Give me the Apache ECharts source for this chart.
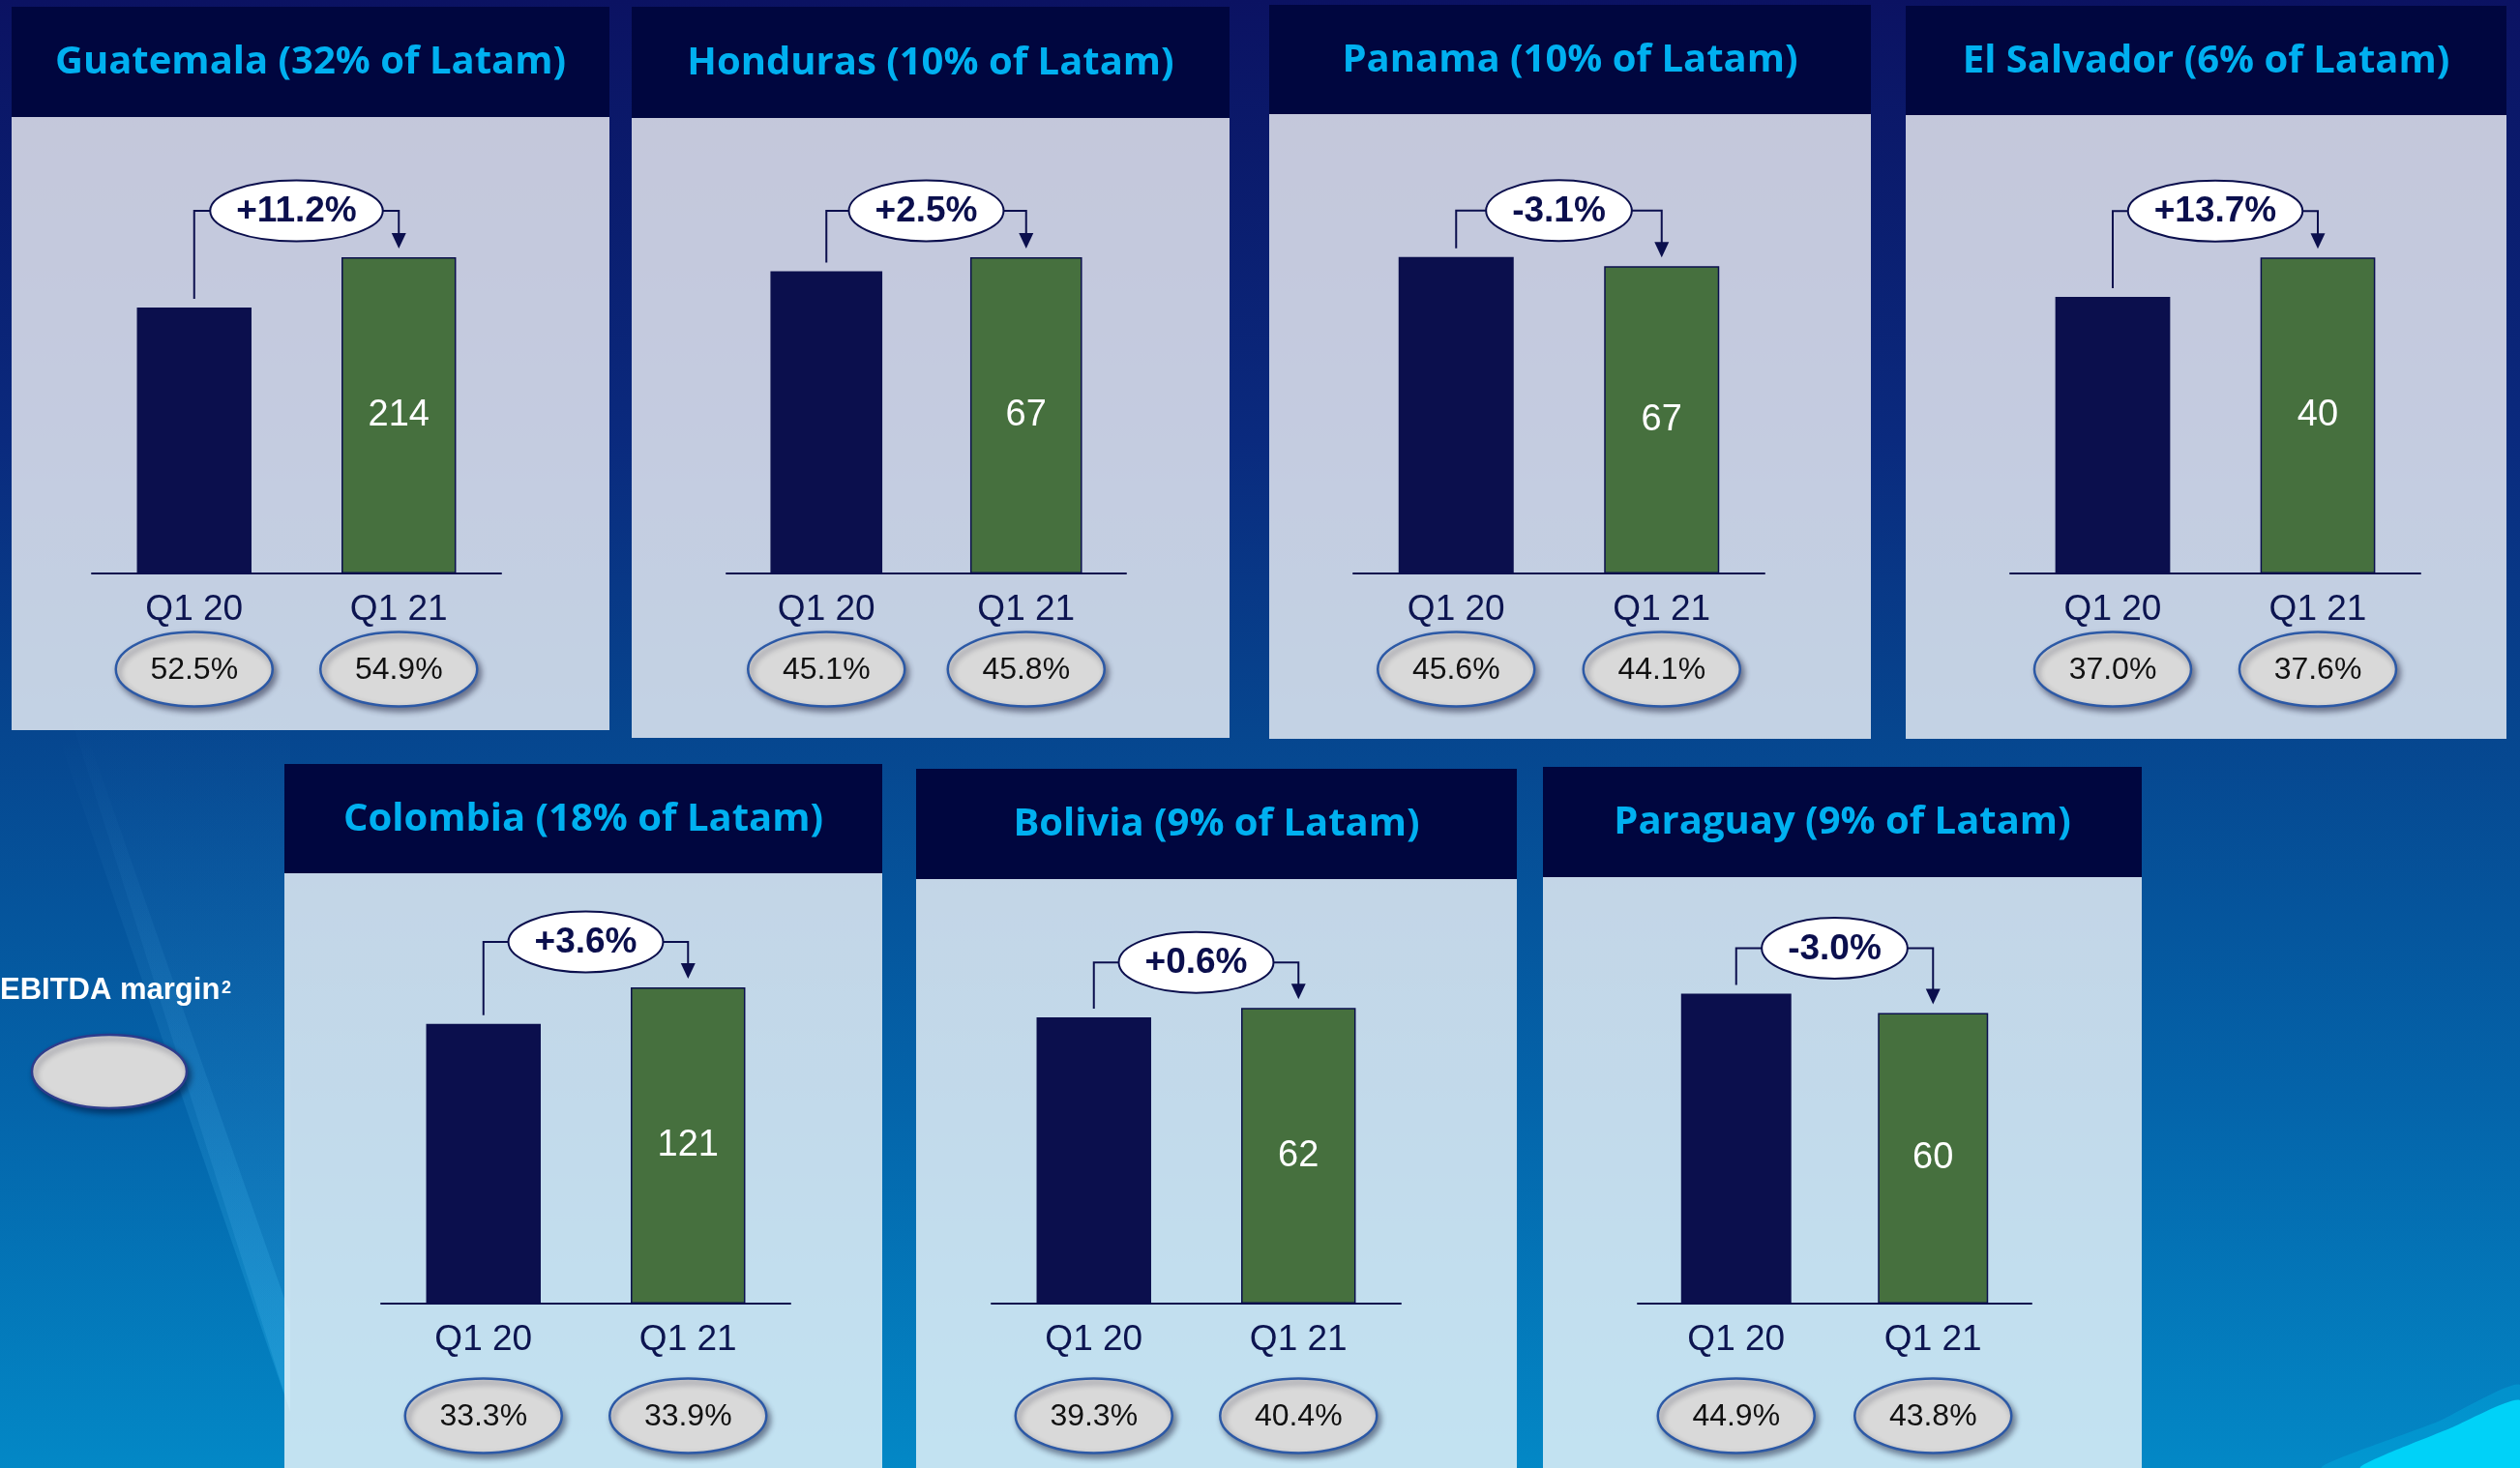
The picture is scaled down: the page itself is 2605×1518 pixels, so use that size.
<!DOCTYPE html>
<html>
<head>
<meta charset="utf-8">
<script src="https://cdn.jsdelivr.net/npm/echarts@6/dist/echarts.min.js"></script>
<style>
  html, body { margin: 0; padding: 0; background: #0a2a7c; }
  #chart { width: 2605px; height: 1518px; }
</style>
</head>
<body>
<div id="chart"></div>
<script>
// EBITDA by country (USD m), Q1 20 vs Q1 21
const countries = ['Guatemala', 'Honduras', 'Panama', 'El Salvador', 'Colombia', 'Bolivia', 'Paraguay']
const latamShare = ['32%', '10%', '10%', '6%', '18%', '9%', '9%']
const periods = ['Q1 20', 'Q1 21']
const ebitdaQ120 = [180, 64, 69, 35, 107, 60, 64]
const ebitdaQ121 = [214, 67, 67, 40, 121, 62, 60]
const growth = ['+11.2%', '+2.5%', '-3.1%', '+13.7%', '+3.6%', '+0.6%', '-3.0%']
const marginQ120 = ['52.5%', '45.1%', '45.6%', '37.0%', '33.3%', '39.3%', '44.9%']
const marginQ121 = ['54.9%', '45.8%', '44.1%', '37.6%', '33.9%', '40.4%', '43.8%']

// y scale top of each panel
const axisMax = [216, 67.6, 69.6, 40.4, 122.1, 66.9, 65.9]

// panel boxes: [left, right, top, headerBottom, bottom]
const panels = [
  [12, 630, 7, 121, 755],
  [653, 1271, 7, 122, 763],
  [1312, 1934, 5, 118, 764],
  [1970, 2591, 6, 119, 764],
  [294, 912, 790, 903, 1518],
  [947, 1568, 795, 909, 1518],
  [1595, 2214, 793, 907, 1518]
]
// plot areas: [left, width, baseline]
const plots = [
  [95, 423, 593], [751, 413, 593], [1399, 425, 593], [2078, 424, 593],
  [394, 423, 1348], [1025, 423, 1348], [1693, 407, 1348]
]
const PLOT_H = 330
const W = 2605
const H = 1518

const NAVY = '#0b0f4d'
const GREEN = '#46703e'
const ARIAL = '"Liberation Sans", Arial, sans-serif'

const chart = echarts.init(document.getElementById('chart'))

const grids = []
const xAxes = []
const yAxes = []
const series = []
countries.forEach((c, i) => {
  const p = plots[i]
  grids.push({ left: p[0], width: p[1], top: p[2] - PLOT_H, height: PLOT_H })
  xAxes.push({
    type: 'category',
    gridIndex: i,
    data: periods,
    axisLine: { lineStyle: { color: NAVY, width: 2 } },
    axisTick: { show: false },
    axisLabel: { fontSize: 37, color: '#0c1450', fontFamily: ARIAL, margin: 19 }
  })
  yAxes.push({ type: 'value', gridIndex: i, show: false, min: 0, max: axisMax[i], splitLine: { show: false } })
  series.push({
    type: 'bar',
    xAxisIndex: i,
    yAxisIndex: i,
    barWidth: '56%',
    itemStyle: { borderColor: NAVY, borderWidth: 1.5 },
    label: { show: false, position: 'inside', color: '#fff', fontSize: 38, fontFamily: ARIAL },
    data: [
      { value: ebitdaQ120[i], itemStyle: { color: NAVY } },
      { value: ebitdaQ121[i], itemStyle: { color: GREEN }, label: { show: true } }
    ]
  })
})

chart.setOption({
  animation: false,
  backgroundColor: 'transparent',
  grid: grids,
  xAxis: xAxes,
  yAxis: yAxes,
  series: series
})

// text width helper for the growth bubbles
const ctx = document.createElement('canvas').getContext('2d')
function textWidth(text, font) {
  ctx.font = font
  return ctx.measureText(text).width
}

const ovalShadow = { shadowBlur: 6, shadowOffsetX: 3, shadowOffsetY: 4, shadowColor: 'rgba(0,0,30,0.45)' }

const graphics = [
  // slide background
  {
    type: 'rect', z: -100,
    shape: { x: 0, y: 0, width: W, height: H },
    style: {
      fill: {
        type: 'linear', x: 0, y: 0, x2: 0, y2: 1,
        colorStops: [
          { offset: 0, color: '#0b1262' },
          { offset: 0.3, color: '#0a2a7e' },
          { offset: 0.5, color: '#06468f' },
          { offset: 0.75, color: '#0464aa' },
          { offset: 1, color: '#0388c6' }
        ]
      }
    }
  },
  // light beam on the left
  {
    type: 'polygon', z: -98,
    shape: { points: [[60, 700], [300, 700], [300, 1460]] },
    style: {
      fill: {
        type: 'linear', x: 0, y: 0, x2: 0, y2: 1,
        colorStops: [
          { offset: 0, color: 'rgba(90,180,245,0)' },
          { offset: 1, color: 'rgba(90,190,245,0.2)' }
        ]
      }
    }
  },
  {
    type: 'polygon', z: -97,
    shape: { points: [[60, 760], [90, 760], [300, 1360], [300, 1460]] },
    style: {
      fill: {
        type: 'linear', x: 0, y: 0, x2: 0, y2: 1,
        colorStops: [
          { offset: 0, color: 'rgba(120,200,255,0)' },
          { offset: 1, color: 'rgba(60,200,250,0.22)' }
        ]
      }
    }
  },
  // cyan swoosh bottom right
  {
    type: 'polygon', z: -96,
    shape: { points: [[2400, 1518], [2520, 1470], [2605, 1432], [2605, 1518]], smooth: 0.2 },
    style: { fill: 'rgba(0,200,245,0.25)' }
  },
  {
    type: 'polygon', z: -95,
    shape: { points: [[2440, 1518], [2535, 1476], [2605, 1448], [2605, 1518]], smooth: 0.2 },
    style: { fill: '#00d2f8' }
  },
  // legend
  {
    type: 'text', z: 10,
    style: { text: 'EBITDA margin', x: 0, y: 1024, align: 'left', verticalAlign: 'middle', fill: '#fff', font: 'bold 31px ' + ARIAL }
  },
  {
    type: 'text', z: 10,
    style: { text: '2', x: 229, y: 1013, align: 'left', verticalAlign: 'top', fill: '#fff', font: 'bold 18px ' + ARIAL }
  },
  {
    type: 'ellipse', z: 10,
    shape: { cx: 113, cy: 1108, rx: 80, ry: 38 },
    style: Object.assign({ fill: '#d9d9d9', stroke: '#2d3c8c', lineWidth: 2.5 }, ovalShadow)
  }
]

countries.forEach((c, i) => {
  const b = panels[i]
  const cx = (b[0] + b[1]) / 2
  graphics.push(
    {
      type: 'rect', z: -50,
      shape: { x: b[0], y: b[3], width: b[1] - b[0], height: b[4] - b[3] },
      style: { fill: 'rgba(255,255,255,0.76)' }
    },
    {
      type: 'rect', z: -50,
      shape: { x: b[0], y: b[2], width: b[1] - b[0], height: b[3] - b[2] },
      style: { fill: '#00063f' }
    },
    {
      type: 'text', z: -40,
      style: {
        text: c + ' (' + latamShare[i] + ' of Latam)',
        x: cx, y: (b[2] + b[3]) / 2 + 1,
        align: 'center', verticalAlign: 'middle',
        fill: '#00b0f0', font: 'bold 40px "Open Sans", sans-serif'
      }
    }
  )

  const p1 = chart.convertToPixel({ gridIndex: i }, [periods[0], ebitdaQ120[i]])
  const p2 = chart.convertToPixel({ gridIndex: i }, [periods[1], ebitdaQ121[i]])
  const lineY = Math.min(p1[1], p2[1]) - (i < 4 ? 48 : 47)
  const mid = (p1[0] + p2[0]) / 2
  const bubbleFont = 'bold 37px ' + ARIAL
  const rx = (textWidth(growth[i], bubbleFont) + 54) / 2
  const lineStyle = { stroke: NAVY, lineWidth: 2, fill: null }

  graphics.push(
    { type: 'polyline', z: 20, shape: { points: [[p1[0], p1[1] - 9], [p1[0], lineY], [mid - rx, lineY]] }, style: lineStyle },
    { type: 'polyline', z: 20, shape: { points: [[mid + rx, lineY], [p2[0], lineY], [p2[0], p2[1] - 24]] }, style: lineStyle },
    { type: 'polygon', z: 20, shape: { points: [[p2[0] - 7.5, p2[1] - 25], [p2[0] + 7.5, p2[1] - 25], [p2[0], p2[1] - 9]] }, style: { fill: NAVY } },
    { type: 'ellipse', z: 21, shape: { cx: mid, cy: lineY, rx: rx, ry: 31.5 }, style: { fill: '#fff', stroke: NAVY, lineWidth: 2 } },
    {
      type: 'text', z: 22,
      style: { text: growth[i], x: mid, y: lineY + 1, align: 'center', verticalAlign: 'middle', fill: NAVY, font: bubbleFont }
    }
  )

  // EBITDA margin ovals
  const ovalY = plots[i][2] + (i < 4 ? 99 : 116)
  const margins = [marginQ120[i], marginQ121[i]]
  ;[p1[0], p2[0]].forEach((x, k) => {
    graphics.push(
      {
        type: 'ellipse', z: 20,
        shape: { cx: x, cy: ovalY, rx: 81, ry: 38.5 },
        style: Object.assign({ fill: '#d9d9d9', stroke: '#2c59a6', lineWidth: 2.5 }, ovalShadow)
      },
      {
        type: 'text', z: 21,
        style: { text: margins[k], x: x, y: ovalY + 1, align: 'center', verticalAlign: 'middle', fill: '#111', font: '32px ' + ARIAL }
      }
    )
  })
})

chart.setOption({ graphic: graphics })
</script>
</body>
</html>
